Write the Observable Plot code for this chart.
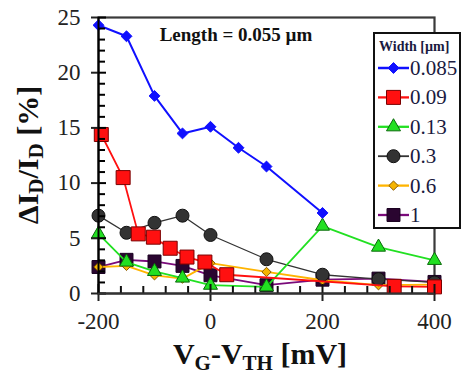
<!DOCTYPE html>
<html>
<head>
<meta charset="utf-8">
<script src="https://cdn.jsdelivr.net/npm/d3@7"></script>
<script src="https://cdn.jsdelivr.net/npm/@observablehq/plot@0.6"></script>
<style>
  html, body { margin: 0; padding: 0; background: #fff; }
  #wrap { position: relative; width: 461px; height: 376px; overflow: hidden; }
  #legend { position: absolute; left: 0; top: 0; }
</style>
</head>
<body>
<div id="wrap"><div id="chart"></div><svg id="legend" width="461" height="376"></svg></div>
<script>
// ---- data ----
const widths = ["0.085", "0.09", "0.13", "0.3", "0.6", "1"];

const vg_085 = [-200, -150, -100, -50, 0, 50, 100, 200];
const dI_085 = [24.3, 23.3, 17.9, 14.5, 15.1, 13.2, 11.5, 7.3];

const vg_09 = [-195, -156, -129, -102, -72, -42, -10, 29, 328, 400];
const dI_09 = [14.4, 10.5, 5.4, 5.1, 4.1, 3.3, 2.85, 1.7, 0.65, 0.6];

const vg_013 = [-200, -150, -100, -50, 0, 100, 200, 300, 400];
const dI_013 = [5.4, 2.85, 2.0, 1.4, 0.75, 0.6, 6.1, 4.2, 3.0];

const vg_03 = [-200, -150, -100, -50, 0, 100, 200, 300, 400];
const dI_03 = [7.05, 5.5, 6.4, 7.05, 5.3, 3.1, 1.7, 1.3, 1.0];

const vg_06 = [-200, -150, -100, -50, 0, 100, 200, 300, 400];
const dI_06 = [2.4, 2.5, 1.65, 1.35, 2.75, 1.95, 1.2, 0.75, 0.8];

const vg_1 = [-200, -150, -100, -50, 0, 100, 200, 300, 400];
const dI_1 = [2.4, 3.05, 2.9, 2.5, 1.65, 0.75, 1.25, 1.35, 1.05];

const xMajorTicks = [-200, 0, 200, 400];
const xMinorTicks = [-160, -120, -80, -40, 40, 80, 120, 160, 240, 280, 320, 360];
const yMajorTicks = [0, 5, 10, 15, 20, 25];
const yMinorTicks = [1,2,3,4,6,7,8,9,11,12,13,14,16,17,18,19,21,22,23,24];

const annotation = "Length = 0.055 µm";
const legendTitle = "Width [µm]";

// ---- styles ----
const styles = {
  "0.085": {stroke: "#1010ff", fill: "#1010ff", mstroke: "#1010ff", symbol: "diamond2", r: 4.9, sw: 2},
  "0.09":  {stroke: "#ff1010", fill: "#ff1010", mstroke: "#7a0000", symbol: "square", r: 7.9, sw: 1.8},
  "0.13":  {stroke: "#22e022", fill: "#22e022", mstroke: "#0a6a0a", symbol: "triangle", r: 5.2, sw: 1.8},
  "0.3":   {stroke: "#333333", fill: "#333333", mstroke: "#111111", symbol: "circle", r: 6.5, sw: 1.3},
  "0.6":   {stroke: "#ffb400", fill: "#f5b400", mstroke: "#8a5a00", symbol: "diamond2", r: 4.2, sw: 1.8},
  "1":     {stroke: "#7a0a7a", fill: "#2a0530", mstroke: "#1a0020", symbol: "square", r: 7.3, sw: 1.8}
};

const seriesData = {
  "0.085": [vg_085, dI_085], "0.09": [vg_09, dI_09], "0.13": [vg_013, dI_013],
  "0.3": [vg_03, dI_03], "0.6": [vg_06, dI_06], "1": [vg_1, dI_1]
};
const rows = widths.flatMap(w => seriesData[w][0].map((v, i) => ({w, vg: v, dI: seriesData[w][1][i]})));

const drawOrder = widths.slice().reverse();
const seriesMarks = drawOrder.flatMap(w => {
  const s = styles[w];
  const d = rows.filter(r => r.w === w);
  return [
    Plot.line(d, {x: "vg", y: "dI", stroke: s.stroke, strokeWidth: s.sw}),
    Plot.dot(d, {x: "vg", y: "dI", symbol: () => s.symbol, r: s.r, fill: s.fill, stroke: s.mstroke, strokeWidth: 1})
  ];
});

const font = "Liberation Serif, DejaVu Serif, serif";
const W = 461, H = 376, mL = 98, mR = 27, mT = 17, mB = 83;
const fw = W - mL - mR, fh = H - mT - mB;

const chart = Plot.plot({
  width: W, height: H,
  marginLeft: mL, marginRight: mR, marginTop: mT, marginBottom: mB,
  style: {fontFamily: font, fontSize: "23px", color: "#222", background: "#fff", overflow: "visible"},
  x: {domain: [-200, 400]},
  y: {domain: [0, 25]},
  symbol: {type: "identity"},
  marks: [
    Plot.frame({stroke: "#3a3a3a", strokeWidth: 2.2}),
    ...seriesMarks,
    // inward tick marks
    Plot.tickX(xMinorTicks, {x: d => d, insetTop: fh - 7, stroke: "#111", strokeWidth: 2}),
    Plot.tickX(xMajorTicks, {x: d => d, insetTop: fh - 9, stroke: "#111", strokeWidth: 2}),
    Plot.tickY(yMinorTicks, {y: d => d, insetRight: fw - 7, stroke: "#000", strokeWidth: 2}),
    Plot.tickY(yMajorTicks, {y: d => d, insetRight: fw - 8, stroke: "#000", strokeWidth: 2}),
    // outward parts of major ticks + labels
    Plot.axisX(xMajorTicks, {tickSize: 8, tickPadding: 11, label: null, fontSize: 23, fontFamily: font, color: "#222", strokeWidth: 2, tickFormat: d => d}),
    Plot.axisY(yMajorTicks, {tickSize: 7, tickPadding: 11, label: null, fontSize: 23, fontFamily: font, color: "#222", strokeWidth: 2}),
    Plot.ruleX([-200], {stroke: "#000", strokeWidth: 2}),
    Plot.ruleY([0], {stroke: "#333", strokeWidth: 2})
  ]
});
document.getElementById("chart").appendChild(chart);

// ---- titles, annotation ----
const svg = d3.select(chart);
const xt = svg.append("text")
  .attr("x", 260).attr("y", 364).attr("text-anchor", "middle")
  .attr("font-family", font).attr("font-weight", "bold").attr("font-size", 30).attr("fill", "#111");
xt.append("tspan").text("V");
xt.append("tspan").attr("font-size", 21).attr("dy", 6).text("G");
xt.append("tspan").attr("dy", -6).text("-V");
xt.append("tspan").attr("font-size", 21).attr("dy", 6).text("TH");
xt.append("tspan").attr("dy", -6).text(" [mV]");

const yt = svg.append("text")
  .attr("transform", "translate(38,155) rotate(-90)").attr("text-anchor", "middle")
  .attr("font-family", font).attr("font-weight", "bold").attr("font-size", 30).attr("fill", "#111");
yt.append("tspan").text("ΔI");
yt.append("tspan").attr("font-size", 21).attr("dy", 5).text("D");
yt.append("tspan").attr("dy", -5).text("/I");
yt.append("tspan").attr("font-size", 21).attr("dy", 5).text("D");
yt.append("tspan").attr("dy", -5).text(" [%]");

svg.append("text").attr("x", 236).attr("y", 41).attr("text-anchor", "middle")
  .attr("font-family", font).attr("font-weight", "bold").attr("font-size", 19).attr("fill", "#111")
  .text(annotation);

// ---- legend ----
const lg = d3.select("#legend");
lg.append("rect").attr("x", 374).attr("y", 33).attr("width", 86).attr("height", 195)
  .attr("fill", "#fff").attr("stroke", "#111").attr("stroke-width", 2);
lg.append("text").attr("x", 379).attr("y", 51)
  .attr("font-family", font).attr("font-weight", "bold").attr("font-size", 14).attr("fill", "#1a1a40")
  .text(legendTitle);
widths.forEach((w, i) => {
  const s = styles[w];
  const cy = 68 + i * 29.4;
  lg.append("line").attr("x1", 378).attr("x2", 409).attr("y1", cy).attr("y2", cy)
    .attr("stroke", s.stroke).attr("stroke-width", s.sw + 0.5);
  const sym = {diamond2: d3.symbolDiamond2, square: d3.symbolSquare, triangle: d3.symbolTriangle, circle: d3.symbolCircle}[s.symbol];
  lg.append("path").attr("d", d3.symbol(sym, Math.PI * s.r * s.r)())
    .attr("transform", `translate(393.5,${cy})`).attr("fill", s.fill).attr("stroke", s.mstroke);
  lg.append("text").attr("x", 410).attr("y", cy + 7).attr("font-family", font).attr("font-size", 21)
    .attr("fill", "#1a1a40").text(w);
});
</script>
</body>
</html>
